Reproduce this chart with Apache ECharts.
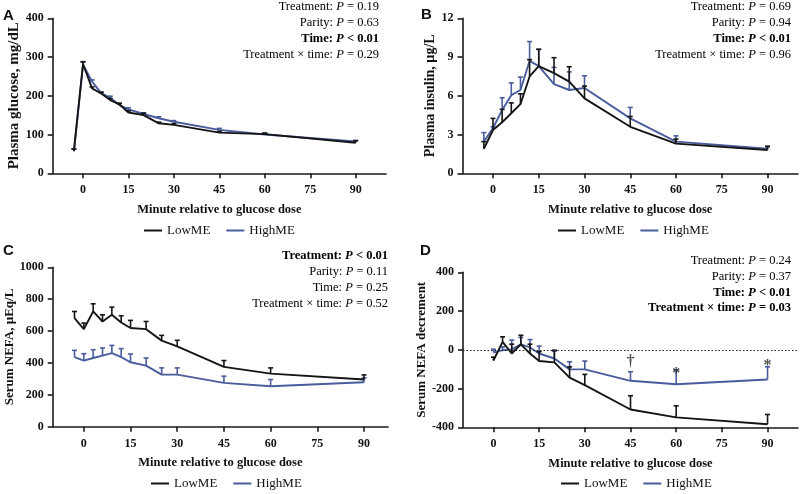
<!DOCTYPE html>
<html>
<head>
<meta charset="utf-8">
<script src="https://cdn.jsdelivr.net/npm/echarts@6/dist/echarts.min.js"></script>
<style>
  html, body { margin: 0; padding: 0; background: #fff; }
  #chart { width: 800px; height: 494px; }
</style>
</head>
<body>
<div id="chart"></div>
<script>
// sampling times, min relative to glucose dose
const times = [-3, 0, 3, 6, 9, 12, 15, 20, 25, 30, 45, 60, 90];
const timesD = [0, 3, 6, 9, 12, 15, 20, 25, 30, 45, 60, 90];
const xTicks = [0, 15, 30, 45, 60, 75, 90];

// A: plasma glucose (mean, mean + SEM)
const glucoseLow = [57, 282, 219, 206, 189, 178, 157, 150, 129, 125, 105, 101, 79];
const glucoseLowTop = [63, 288, 223, 209, 193, 181, 161, 155, 132, 128, 108, 104, 84];
const glucoseHigh = [58, 280, 237, 207, 195, 176, 165, 153, 142, 133, 112, 100, 82];
const glucoseHighTop = [62, 287, 241, 210, 199, 180, 169, 156, 146, 136, 116, 103, 85];

// B: plasma insulin
const insulinLow = [1.9, 3.35, 3.95, 4.65, 5.35, 7.5, 8.3, 7.75, 7.1, 5.8, 3.6, 2.3, 1.8];
const insulinLowTop = [2.45, 4.25, 4.95, 5.45, 6.15, 8.8, 9.6, 8.95, 8.25, 6.75, 4.4, 2.65, 2.1];
const insulinHigh = [2.45, 3.5, 4.9, 6.05, 6.45, 8.7, 8.3, 6.9, 6.45, 6.6, 4.25, 2.45, 1.9];
const insulinHighTop = [3.15, 3.6, 5.85, 7.0, 7.45, 10.2, 9.6, 8.2, 7.85, 7.55, 5.1, 2.9, 2.05];

// C: serum NEFA
const nefaLow = [681, 612, 723, 660, 702, 654, 619, 612, 540, 504, 375, 333, 296];
const nefaLowTop = [723, 650, 771, 702, 750, 696, 667, 660, 573, 542, 415, 369, 325];
const nefaHigh = [437, 415, 431, 446, 462, 437, 404, 383, 327, 327, 275, 254, 279];
const nefaHighTop = [479, 458, 483, 494, 510, 490, 456, 431, 369, 369, 317, 296, 306];

// D: serum NEFA decrement
const decLow = [-55, 41, -19, 28, -19, -58, -65, -144, -182, -308, -349, -384];
const decLowTop = [-38, 67, 29, 75, 29, -10, -2, -88, -127, -237, -289, -334];
const decHigh = [-14, -2, 2, 28, 12, -19, -45, -101, -101, -160, -178, -153];
const decHighTop = [3, 15, 50, 64, 53, 19, -7, -62, -58, -113, -105, -88];

// D: significance marks
const markTimes = [45, 60, 90];
const markLevels = [-60, -122, -84];
const markText = ['†', '*', '*'];

const BLACK = '#151515';
const BLUE = '#4a5c9c';
const SERIF = '"Liberation Serif", "DejaVu Serif", serif';

const pairs = (xs, ys) => xs.map((x, i) => [x, ys[i]]);
const bars = (xs, ys, tops) => xs.map((x, i) => [x, ys[i], tops[i]]);

function errorBars(color) {
  return function (params, api) {
    const p0 = api.coord([api.value(0), api.value(1)]);
    const p1 = api.coord([api.value(0), api.value(2)]);
    const w = 2.5;
    return {
      type: 'group',
      children: [
        { type: 'line', shape: { x1: p0[0], y1: p0[1], x2: p1[0], y2: p1[1] }, style: { stroke: color, lineWidth: 1.6 } },
        { type: 'line', shape: { x1: p1[0] - w, y1: p1[1], x2: p1[0] + w, y2: p1[1] }, style: { stroke: color, lineWidth: 1.6 } }
      ]
    };
  };
}

const grids = [
  { left: 52.7, top: 18.3, width: 333.3, height: 155 },
  { left: 462.5, top: 18.3, width: 335.5, height: 155 },
  { left: 52.7, top: 267.3, width: 335.3, height: 159.4 },
  { left: 463, top: 272.3, width: 335, height: 155 }
];
const xMax = [100, 100, 97.7, 100];

const axisLineStyle = { color: '#1a1a1a', width: 1.6 };

const xAxes = grids.map((g, i) => ({
  type: 'value', gridIndex: i, min: -10, max: xMax[i],
  name: 'Minute relative to glucose dose',
  nameLocation: 'middle', nameGap: 30,
  nameTextStyle: { fontFamily: SERIF, fontWeight: 'bold', fontSize: 12.5, color: '#111' },
  axisLine: { show: true, onZero: false, lineStyle: axisLineStyle },
  axisTick: { show: true, length: 5, customValues: xTicks, lineStyle: axisLineStyle },
  axisLabel: { customValues: xTicks, margin: 11, fontFamily: SERIF, fontWeight: 'bold', fontSize: 12, color: '#111' },
  splitLine: { show: false }
}));

const yDefs = [
  { min: 0, max: 400, interval: 100, name: 'Plasma glucose, mg/dL', gap: 30, size: 15 },
  { min: 0, max: 12, interval: 3, name: 'Plasma insulin, µg/L', gap: 24, size: 14 },
  { min: 0, max: 1000, interval: 200, name: 'Serum NEFA, µEq/L', gap: 37, size: 13 },
  { min: -400, max: 400, interval: 200, name: 'Serum NEFA decrement', gap: 29, size: 13 }
];
const yAxes = yDefs.map((d, i) => ({
  type: 'value', gridIndex: i, min: d.min, max: d.max, interval: d.interval,
  name: d.name, nameLocation: 'middle', nameGap: d.gap,
  nameTextStyle: { fontFamily: SERIF, fontWeight: 'bold', fontSize: d.size, color: '#111' },
  axisLine: { show: true, onZero: false, lineStyle: axisLineStyle },
  axisTick: { show: true, length: 5, lineStyle: axisLineStyle },
  axisLabel: { margin: 9, formatter: v => String(v), fontFamily: SERIF, fontWeight: 'bold', fontSize: 12, color: '#111' },
  splitLine: { show: false }
}));

const panels = [
  { x: times, low: glucoseLow, lowTop: glucoseLowTop, high: glucoseHigh, highTop: glucoseHighTop },
  { x: times, low: insulinLow, lowTop: insulinLowTop, high: insulinHigh, highTop: insulinHighTop },
  { x: times, low: nefaLow, lowTop: nefaLowTop, high: nefaHigh, highTop: nefaHighTop },
  { x: timesD, low: decLow, lowTop: decLowTop, high: decHigh, highTop: decHighTop }
];

const series = [];
panels.forEach((p, i) => {
  const ax = { xAxisIndex: i, yAxisIndex: i };
  series.push(Object.assign({
    name: 'HighME', type: 'line', data: pairs(p.x, p.high), showSymbol: false,
    lineStyle: { color: BLUE, width: 1.9 }, itemStyle: { color: BLUE }, z: 2,
    markLine: i === 3 ? {
      silent: true, symbol: 'none', label: { show: false },
      lineStyle: { color: '#222', type: [1.5, 2], width: 1.2 },
      data: [{ yAxis: 0 }]
    } : undefined
  }, ax));
  series.push(Object.assign({
    name: 'HighME err', type: 'custom', renderItem: errorBars(BLUE),
    data: bars(p.x, p.high, p.highTop), encode: { x: 0, y: 1 }, z: 2
  }, ax));
  series.push(Object.assign({
    name: 'LowME', type: 'line', data: pairs(p.x, p.low), showSymbol: false,
    lineStyle: { color: BLACK, width: 1.9 }, itemStyle: { color: BLACK }, z: 3
  }, ax));
  series.push(Object.assign({
    name: 'LowME err', type: 'custom', renderItem: errorBars(BLACK),
    data: bars(p.x, p.low, p.lowTop), encode: { x: 0, y: 1 }, z: 3
  }, ax));
});
series.push({
  name: 'marks', type: 'scatter', xAxisIndex: 3, yAxisIndex: 3,
  symbolSize: 0, z: 5,
  data: markTimes.map((t, i) => ({ value: [t, markLevels[i]], label: { formatter: markText[i] } })),
  label: { show: true, position: 'inside', fontFamily: SERIF, fontWeight: 'bold', fontSize: 16, color: '#222' }
});

// stats text, right aligned
const rich = {
  n: { fontFamily: SERIF, fontSize: 12.5, color: '#111' },
  i: { fontFamily: SERIF, fontSize: 12.5, fontStyle: 'italic', color: '#111' },
  b: { fontFamily: SERIF, fontSize: 12.5, fontWeight: 'bold', color: '#111' },
  bi: { fontFamily: SERIF, fontSize: 12.5, fontWeight: 'bold', fontStyle: 'italic', color: '#111' }
};
function stat(label, val, bold) {
  return bold ? `{b|${label}: }{bi|P}{b| ${val}}` : `{n|${label}: }{i|P}{n| ${val}}`;
}
const stats = [
  { x: 379, ys: [7, 23, 39, 55], lines: [['Treatment', '= 0.19', 0], ['Parity', '= 0.63', 0], ['Time', '< 0.01', 1], ['Treatment × time', '= 0.29', 0]] },
  { x: 791, ys: [7, 23, 39, 55], lines: [['Treatment', '= 0.69', 0], ['Parity', '= 0.94', 0], ['Time', '< 0.01', 1], ['Treatment × time', '= 0.96', 0]] },
  { x: 388, ys: [256, 272, 288, 304], lines: [['Treatment', '< 0.01', 1], ['Parity', '= 0.11', 0], ['Time', '= 0.25', 0], ['Treatment × time', '= 0.52', 0]] },
  { x: 791, ys: [261, 277, 293, 308], lines: [['Treatment', '= 0.24', 0], ['Parity', '= 0.37', 0], ['Time', '< 0.01', 1], ['Treatment × time', '= 0.03', 1]] }
];
const graphic = [];
stats.forEach(s => {
  s.lines.forEach((l, k) => {
    graphic.push({
      type: 'text', x: s.x, y: s.ys[k],
      style: { text: stat(l[0], l[1], l[2]), rich: rich, align: 'right', verticalAlign: 'middle' }
    });
  });
});
[['A', 3, 8], ['B', 421, 7], ['C', 3, 243], ['D', 420, 243]].forEach(p => {
  graphic.push({
    type: 'text', x: p[1], y: p[2],
    style: { text: p[0], font: 'bold 15px "Liberation Sans", Arial, sans-serif', fill: '#111' }
  });
});

const legendBase = {
  data: ['LowME', 'HighME'], icon: 'rect', itemWidth: 18, itemHeight: 2, itemGap: 16,
  textStyle: { fontFamily: SERIF, fontSize: 13, color: '#111' }, selectedMode: false
};
const legends = [
  Object.assign({ left: 139, top: 219 }, legendBase),
  Object.assign({ left: 553, top: 219 }, legendBase),
  Object.assign({ left: 146, top: 472 }, legendBase),
  Object.assign({ left: 556, top: 472 }, legendBase)
];

const chart = echarts.init(document.getElementById('chart'), null, { renderer: 'canvas' });
chart.setOption({
  animation: false,
  backgroundColor: '#fff',
  grid: grids,
  xAxis: xAxes,
  yAxis: yAxes,
  legend: legends,
  series: series,
  graphic: graphic
});
</script>
</body>
</html>
